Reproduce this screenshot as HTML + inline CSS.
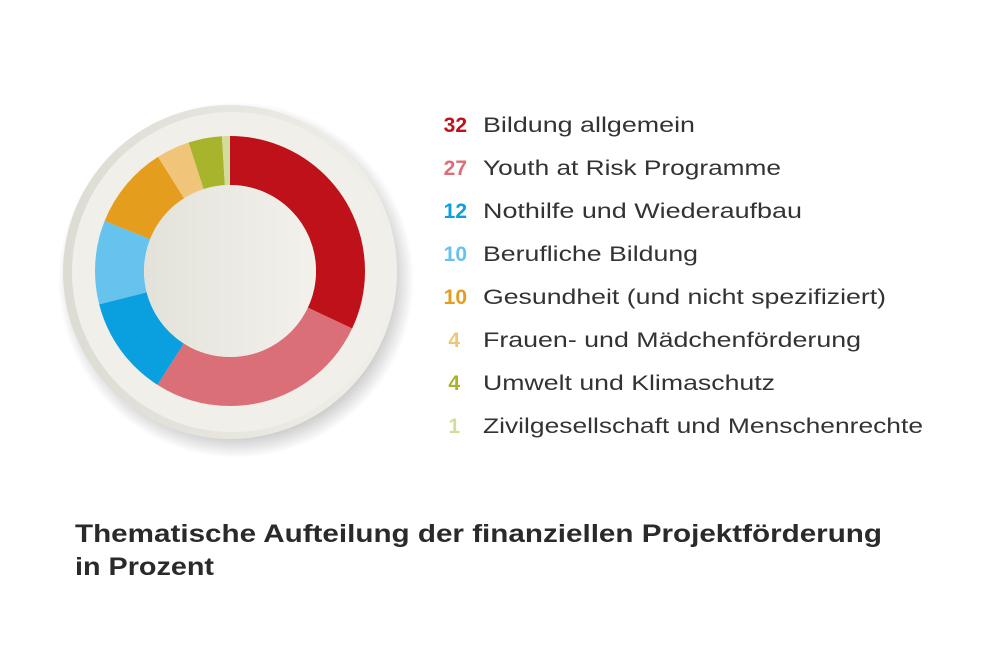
<!DOCTYPE html>
<html><head><meta charset="utf-8"><style>
html,body{margin:0;padding:0;background:#fff;}
svg{display:block;}
text{font-family:"Liberation Sans",sans-serif;}
</style></head><body>
<svg width="1000" height="667" viewBox="0 0 1000 667">
<defs>
<radialGradient id="sh" cx="0.5" cy="0.5" r="0.5">
<stop offset="0.85" stop-color="#000" stop-opacity="0.25"/>
<stop offset="1" stop-color="#000" stop-opacity="0"/>
</radialGradient>
<linearGradient id="pl" x1="0" y1="0" x2="1" y2="0">
<stop offset="0" stop-color="#dddcd3"/>
<stop offset="1" stop-color="#f0efe9"/>
</linearGradient>
<linearGradient id="ce" x1="0" y1="0" x2="1" y2="0">
<stop offset="0" stop-color="#e3e2da"/>
<stop offset="1" stop-color="#f2f1ec"/>
</linearGradient>
</defs>
<circle cx="236" cy="280" r="178" fill="url(#sh)"/>
<circle cx="230" cy="272" r="167" fill="url(#pl)"/>
<circle cx="232" cy="272" r="160" fill="#f0efea"/>
<g transform="rotate(-90 230 271)" fill="none" stroke-width="49">
<circle cx="230" cy="271" r="110.5" stroke="#be1119" stroke-dasharray="222.18 1000" stroke-dashoffset="0"/>
<circle cx="230" cy="271" r="110.5" stroke="#db6f77" stroke-dasharray="187.46 1000" stroke-dashoffset="-222.18"/>
<circle cx="230" cy="271" r="110.5" stroke="#0aa0e0" stroke-dasharray="83.32 1000" stroke-dashoffset="-409.64"/>
<circle cx="230" cy="271" r="110.5" stroke="#66c3ee" stroke-dasharray="69.43 1000" stroke-dashoffset="-492.96"/>
<circle cx="230" cy="271" r="110.5" stroke="#e49d1d" stroke-dasharray="69.43 1000" stroke-dashoffset="-562.39"/>
<circle cx="230" cy="271" r="110.5" stroke="#f0c57a" stroke-dasharray="27.77 1000" stroke-dashoffset="-631.82"/>
<circle cx="230" cy="271" r="110.5" stroke="#a8b52c" stroke-dasharray="27.77 1000" stroke-dashoffset="-659.59"/>
<circle cx="230" cy="271" r="110.5" stroke="#d4dc9c" stroke-dasharray="6.94 1000" stroke-dashoffset="-687.36"/>
</g>
<circle cx="230" cy="271" r="86" fill="url(#ce)"/>
<g font-size="21" font-weight="bold" text-anchor="end">
<text x="467" y="132" fill="#be1119">32</text>
<text x="467" y="175" fill="#db6f77">27</text>
<text x="467" y="218" fill="#0aa0e0">12</text>
<text x="467" y="261" fill="#66c3ee">10</text>
<text x="467" y="304" fill="#e49d1d">10</text>
<text x="460" y="347" fill="#f0c57a">4</text>
<text x="460" y="390" fill="#a8b52c">4</text>
<text x="460" y="433" fill="#d4dc9c">1</text>
</g>
<g font-size="21" fill="#333">
<text x="483" y="132" textLength="212" lengthAdjust="spacingAndGlyphs">Bildung allgemein</text>
<text x="483" y="175" textLength="298" lengthAdjust="spacingAndGlyphs">Youth at Risk Programme</text>
<text x="483" y="218" textLength="319" lengthAdjust="spacingAndGlyphs">Nothilfe und Wiederaufbau</text>
<text x="483" y="261" textLength="215" lengthAdjust="spacingAndGlyphs">Berufliche Bildung</text>
<text x="483" y="304" textLength="403" lengthAdjust="spacingAndGlyphs">Gesundheit (und nicht spezifiziert)</text>
<text x="483" y="347" textLength="378" lengthAdjust="spacingAndGlyphs">Frauen- und Mädchenförderung</text>
<text x="483" y="390" textLength="292" lengthAdjust="spacingAndGlyphs">Umwelt und Klimaschutz</text>
<text x="483" y="433" textLength="440" lengthAdjust="spacingAndGlyphs">Zivilgesellschaft und Menschenrechte</text>
</g>
<g font-size="25" font-weight="bold" fill="#2a2a2a">
<text x="75" y="542" textLength="807" lengthAdjust="spacingAndGlyphs">Thematische Aufteilung der finanziellen Projektförderung</text>
<text x="75" y="575" textLength="139" lengthAdjust="spacingAndGlyphs">in Prozent</text>
</g>
</svg>
</body></html>
